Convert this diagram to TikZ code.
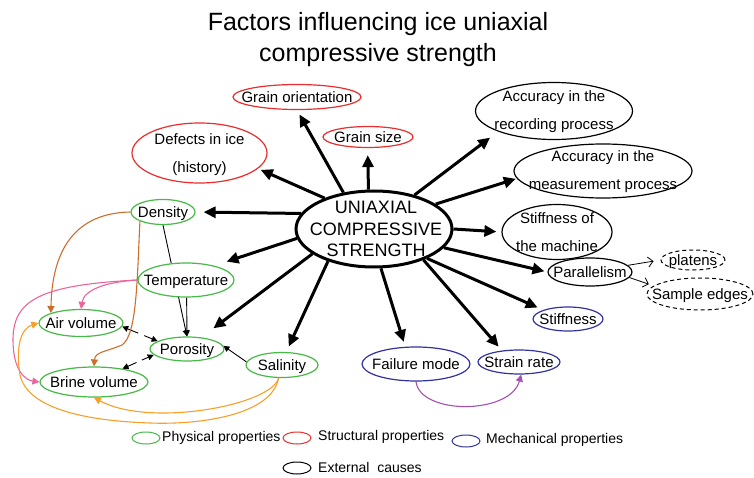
\documentclass[tikz,border=0pt]{standalone}
\usepackage{fontspec}
\setmainfont{Liberation Sans}
\usetikzlibrary{shapes.geometric,arrows.meta,calc}
\pgfdeclarelayer{bg}
\pgfsetlayers{bg,main}
\definecolor{cgreen}{RGB}{70,185,70}
\definecolor{cred}{RGB}{235,45,45}
\definecolor{cblue}{RGB}{50,50,160}
\definecolor{cbrown}{RGB}{205,110,45}
\definecolor{cpink}{RGB}{235,100,155}
\definecolor{corange}{RGB}{247,160,40}
\definecolor{cpurple}{RGB}{165,80,180}
\newcommand{\one}[1]{\raisebox{-5.4pt}[0pt][0pt]{\makebox[0pt]{#1}}}
\newcommand{\many}[2]{\raisebox{#1}[0pt][0pt]{\makebox[0pt]{\begin{tabular}[t]{@{}c@{}}#2\end{tabular}}}}
\tikzset{
  ell/.style={ellipse, draw, fill=white, inner sep=0pt, line width=1.2pt,
    font=\fontsize{15}{28}\selectfont},
  sz/.style 2 args={minimum width=#1pt, minimum height=#2pt},
  phys/.style={ell, draw=cgreen},
  struc/.style={ell, draw=cred},
  mech/.style={ell, draw=cblue},
  ext/.style={ell, draw=black},
  dext/.style={ell, draw=black, line width=1pt, dash pattern=on 4pt off 3pt},
  bigarr/.style={line width=3pt, -{Triangle[length=12pt,width=11pt]}},
  thinarr/.style={line width=0.9pt, -{Triangle[length=6pt,width=6pt]}},
  curv/.style={line width=1.1pt, -{Triangle[length=7pt,width=7pt]}},
  openarr/.style={line width=0.8pt, -{Straight Barb[length=5pt,width=10pt]}},
  legtext/.style={anchor=west, inner sep=0pt, font=\fontsize{14}{16}\selectfont},
  legell/.style={ellipse, draw, inner sep=0pt, line width=1pt, minimum width=28pt, minimum height=12pt},
}
\begin{document}
\begin{tikzpicture}[x=1pt,y=-1pt]
\useasboundingbox (0,0) rectangle (754,478);

% title
\node[font=\fontsize{25}{31}\selectfont, align=center, inner sep=0pt] (title) at (378,40)
  {Factors influencing ice uniaxial\\compressive strength};

% central node
\node[ell, sz={156}{76}, line width=3pt, font=\fontsize{18}{21.5}\selectfont] (main) at (374,229)
  {\many{15.1pt}{\hspace*{4pt}UNIAXIAL\\\hspace*{4pt}COMPRESSIVE\\\hspace*{4pt}STRENGTH}};

% structural
\node[struc, sz={128}{25}] (grainor) at (297,97) {\one{Grain orientation}};
\node[struc, sz={90}{21}] (grainsize) at (368,137) {\one{Grain size}};
\node[struc, sz={135}{60}] (defects) at (199.5,153) {\many{8.6pt}{Defects in ice\\(history)}};

% external
\node[ext, sz={157}{57}] (accrec) at (554,111) {\many{9.6pt}{Accuracy in the\\recording process}};
\node[ext, sz={178}{54}] (accmeas) at (603,171) {\many{9.6pt}{Accuracy in the\\measurement process}};
\node[ext, sz={110}{55}] (stiffm) at (557,232) {\many{8.6pt}{Stiffness of\\the machine}};
\node[ext, sz={84}{28}] (parallel) at (590,272) {\one{Parallelism}};
\node[dext, sz={64}{20}] (platens) at (693,260) {\one{platens}};
\node[dext, sz={106}{32}] (sample) at (700,294) {\one{Sample edges}};

% mechanical
\node[mech, sz={70}{24}] (stiff) at (568,319) {\one{Stiffness}};
\node[mech, sz={108}{34}] (failure) at (416,364) {\one{Failure mode}};
\node[mech, sz={82}{24}] (strain) at (519,362) {\one{Strain rate}};

% physical
\node[phys, sz={64}{25}] (density) at (163,212) {\one{Density}};
\node[phys, sz={96}{34}] (temp) at (186,280) {\one{Temperature}};
\node[phys, sz={84}{27}] (air) at (81,323) {\one{Air volume}};
\node[phys, sz={74}{24}] (porosity) at (187,349) {\one{Porosity}};
\node[phys, sz={108}{30}] (brine) at (94,382) {\one{Brine volume}};
\node[phys, sz={72}{25}] (salinity) at (282,365) {\one{Salinity}};

% legend
\node[legell, draw=cgreen] (lgphys) at (146,438) {};
\node[legtext] (ltphys) at (162,438) {Physical properties};
\node[legell, draw=cred] (lgstruc) at (297,438) {};
\node[legtext] (ltstruc) at (318,437) {Structural properties};
\node[legell, draw=cblue] (lgmech) at (466,441) {};
\node[legtext] (ltmech) at (486,440) {Mechanical properties};
\node[legell, draw=black] (lgext) at (297,468) {};
\node[legtext] (ltext) at (318,467) {External\ \ causes};

\begin{pgfonlayer}{bg}
% thick arrows from the centre
\draw[bigarr, shorten >=3pt] (main.148) -- (defects.-15);
\draw[bigarr, shorten >=5pt] (main.130) -- (grainor.-90);
\draw[bigarr, shorten >=7pt] (main.98) -- (grainsize.-92);
\draw[bigarr, shorten >=10pt] (main.40) -- (accrec.south west);
\draw[bigarr, shorten >=1pt] (main.22) -- (accmeas.185);
\draw[bigarr, shorten >=5pt] (main.east) -- (stiffm.west);
\draw[bigarr, shorten >=3pt] (main.-15) -- (parallel.west);
\draw[bigarr, shorten >=6pt] (main.-29) -- (stiff.160);
\draw[bigarr, shorten >=5pt] (main.-32) -- (strain.146);
\draw[bigarr, shorten >=5pt] (main.-80) -- (failure.122);
\draw[bigarr, shorten >=6pt] (main.215) -- (salinity.72);
\draw[bigarr, shorten >=15pt] (main.202) -- (porosity.39);
\draw[bigarr, shorten >=13pt] (main.187) -- (temp.27);
\draw[bigarr, shorten >=8pt] (main.168) -- (density.east);

% parallelism details
\draw[openarr, shorten >=7pt] (parallel.10) -- (platens.west);
\draw[openarr, shorten >=5pt] (parallel.-8) -- (sample.170);

% thin black arrows
\draw[thinarr] (density.south) -- (porosity.north);
\draw[thinarr] (temp.-88) -- (porosity.north);
\draw[thinarr] (salinity.175) -- (porosity.5);
\draw[thinarr] ($(air.-5)!0.45!(porosity.165)$) -- (air.-5);
\draw[thinarr] ($(air.-5)!0.62!(porosity.165)$) -- (porosity.165);
\draw[thinarr] ($(brine.25)!0.45!(porosity.190)$) -- (brine.25);
\draw[thinarr] ($(brine.25)!0.62!(porosity.190)$) -- (porosity.190);

% coloured curves
\draw[curv, cbrown] (density.west) .. controls (75,213) and (52,250) .. (air.north west);
\draw[curv, cbrown] (density.south west) .. controls (137,280) and (137,335) .. (122,345)
  .. controls (105,352) and (95,352) .. (brine.north);
\draw[curv, cpink] (temp.west) .. controls (105,282) and (84,290) .. (air.north);
\draw[curv, cpink] (temp.west) .. controls (40,285) and (13,300) .. (13,340)
  .. controls (13,370) and (25,380) .. (brine.west);
\draw[curv, corange] (salinity.-105) .. controls (272,405) and (150,428) .. (brine.south);
\draw[curv, corange] (salinity.-105) .. controls (272,415) and (200,425) .. (150,423)
  .. controls (90,421) and (28,410) .. (20,375) .. controls (15,345) and (22,328) .. (air.west);
\draw[curv, cpurple] (failure.south) .. controls (420,415) and (510,415) .. (strain.-80);
\end{pgfonlayer}
\end{tikzpicture}
\end{document}
